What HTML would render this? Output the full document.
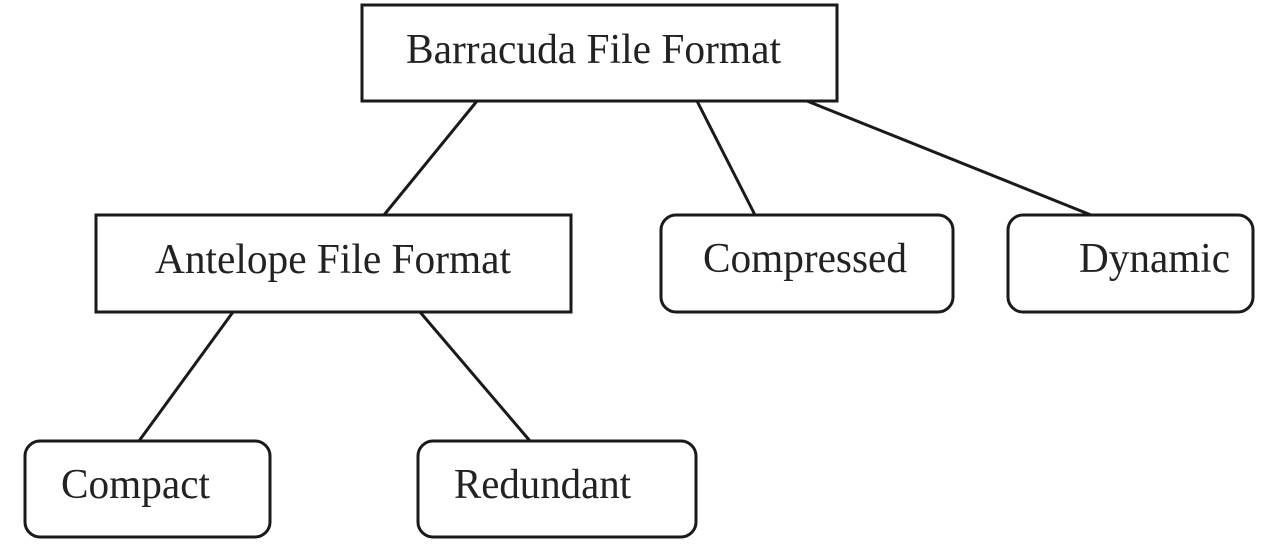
<!DOCTYPE html>
<html><head><meta charset="utf-8"><style>
html,body{margin:0;padding:0;background:#fff;width:1280px;height:546px;overflow:hidden}
text{font-family:"Liberation Serif",serif;font-size:42px;fill:#222}
</style></head><body>
<svg width="1280" height="546" xmlns="http://www.w3.org/2000/svg">
<g fill="none" stroke="#1a1a1a" stroke-width="3">
<rect x="362" y="5" width="475" height="96"/>
<rect x="96" y="215" width="475" height="97"/>
<rect x="661" y="215" width="292" height="97" rx="15"/>
<rect x="1008" y="215" width="245" height="97" rx="15"/>
<rect x="25" y="441" width="245" height="96" rx="15"/>
<rect x="418" y="441" width="278" height="96" rx="15"/>
<line x1="477" y1="101" x2="384" y2="215"/>
<line x1="697" y1="101" x2="755" y2="215"/>
<line x1="807" y1="101" x2="1091" y2="215"/>
<line x1="233" y1="312" x2="139" y2="441"/>
<line x1="420" y1="312" x2="530" y2="441"/>
</g>
<text x="406" y="63" textLength="375" lengthAdjust="spacingAndGlyphs">Barracuda File Format</text>
<text x="155" y="273" textLength="356" lengthAdjust="spacingAndGlyphs">Antelope File Format</text>
<text x="703" y="272" textLength="204" lengthAdjust="spacingAndGlyphs">Compressed</text>
<text x="1079" y="272" textLength="151" lengthAdjust="spacingAndGlyphs">Dynamic</text>
<text x="61" y="498" textLength="149" lengthAdjust="spacingAndGlyphs">Compact</text>
<text x="454" y="498" textLength="177" lengthAdjust="spacingAndGlyphs">Redundant</text>
</svg>
</body></html>
